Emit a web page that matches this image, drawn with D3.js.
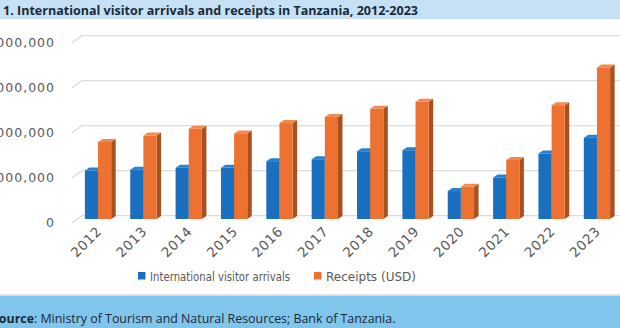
<!DOCTYPE html>
<html><head><meta charset="utf-8">
<script src="https://cdn.jsdelivr.net/npm/d3@7"></script>
<style>body{margin:0;background:#fff;overflow:hidden}svg{display:block}</style>
</head><body>
<svg id="c" width="620" height="328"></svg>
<script>
const years = ["2012","2013","2014","2015","2016","2017","2018","2019","2020","2021","2022","2023"];
const arrivals = [1077058,1095884,1140156,1137182,1284279,1327143,1505702,1527230,620867,922692,1454920,1808205];
const receipts = [1712700,1853300,2006300,1902000,2131600,2265000,2449100,2604500,715000,1310300,2527800,3368700];
const yTicks = [0,1000000,2000000,3000000,4000000];
const seriesNames = ["International visitor arrivals","Receipts (USD)"];

const svg = d3.select("#c");
const W = 620, H = 328;
const blue = "#1b6fbf", orange = "#ed7231";
const blueSide = "#124f8c", orangeSide = "#a9501f";
const blueTop = "#2a80cf", orangeTop = "#f08a50";

// title band
svg.append("rect").attr("x",0).attr("y",0).attr("width",W).attr("height",19).attr("fill","#c6e1f5");
svg.append("text").attr("x",3).attr("y",15).attr("font-family","Open Sans, sans-serif").attr("font-weight","bold")
  .attr("font-size",13).attr("fill","#1b2a3a")
  .attr("textLength",415).attr("lengthAdjust","spacingAndGlyphs")
  .text("1. International visitor arrivals and receipts in Tanzania, 2012-2023");

const x = d3.scaleBand().domain(years).range([74, 621]).paddingInner(0.42).paddingOuter(0.24);
const y = d3.scaleLinear().domain([0,4000000]).range([219,39]);

// gridlines (3D floor/back)
const grid = svg.append("g");
yTicks.forEach(t=>{
  const yy = y(t);
  grid.append("path").attr("d",`M72,${yy+3.7}L82,${yy-3.3}L620,${yy-3.3}`)
    .attr("fill","none").attr("stroke","#dcdcdc").attr("stroke-width",1.3);
});
// y axis labels
const fmt = d3.format(",");
svg.append("g").selectAll("text").data(yTicks).join("text")
  .attr("x",55).attr("y",d=>y(d)+3.7).attr("dy","0.35em").attr("text-anchor","end")
  .attr("font-family","DejaVu Sans, sans-serif").attr("font-size",12.5).attr("fill","#595959")
  .attr("letter-spacing",1)
  .text(d=>fmt(d));

const bw = x.bandwidth()/2;
const dx = 4.5, dy = -3;
function bar3d(g, x0, v, front, side, top){
  const y0 = y(0), y1 = y(v);
  g.append("path").attr("d",`M${x0+bw},${y0}L${x0+bw+dx},${y0+dy}L${x0+bw+dx},${y1+dy}L${x0+bw},${y1}Z`).attr("fill",side);
  g.append("path").attr("d",`M${x0},${y1}L${x0+dx},${y1+dy}L${x0+bw+dx},${y1+dy}L${x0+bw},${y1}Z`).attr("fill",top);
  g.append("rect").attr("x",x0).attr("y",y1).attr("width",bw).attr("height",y0-y1).attr("fill",front);
}
const bars = svg.append("g");
years.forEach((yr,i)=>{
  const x0 = x(yr);
  bar3d(bars, x0, arrivals[i], blue, blueSide, blueTop);
  bar3d(bars, x0+bw, receipts[i], orange, orangeSide, orangeTop);
});

// x labels
svg.append("g").selectAll("text").data(years).join("text")
  .attr("transform",d=>`translate(${x(d)+x.bandwidth()/2+1},${229}) rotate(-45)`)
  .attr("text-anchor","end").attr("dy","0.35em")
  .attr("font-family","DejaVu Sans, sans-serif").attr("font-size",13.5).attr("fill","#595959")
  .attr("letter-spacing",0.6)
  .text(d=>d);

// legend
const leg = svg.append("g").attr("font-family","DejaVu Sans, sans-serif").attr("font-size",12.5).attr("fill","#595959");
[[138,blue,seriesNames[0],140],[314,orange,seriesNames[1],90]].forEach(([lx,c,t,tl])=>{
  leg.append("rect").attr("x",lx).attr("y",272).attr("width",7.5).attr("height",7.5).attr("fill",c);
  leg.append("text").attr("x",lx+12).attr("y",280.5).attr("textLength",tl).attr("lengthAdjust","spacingAndGlyphs").text(t);
});

// bottom band
svg.append("line").attr("x1",0).attr("x2",W).attr("y1",294.5).attr("y2",294.5).attr("stroke","#e3e3e3");
svg.append("rect").attr("x",0).attr("y",295.5).attr("width",W).attr("height",H-295.5).attr("fill","#80c5ec");
const src = svg.append("text").attr("x",-8).attr("y",323).attr("font-family","Open Sans, sans-serif").attr("font-size",12.4).attr("fill","#1b2a3a");
src.append("tspan").attr("font-weight","bold").text("Source");
src.append("tspan").text(": Ministry of Tourism and Natural Resources; Bank of Tanzania.");
</script>
</body></html>
